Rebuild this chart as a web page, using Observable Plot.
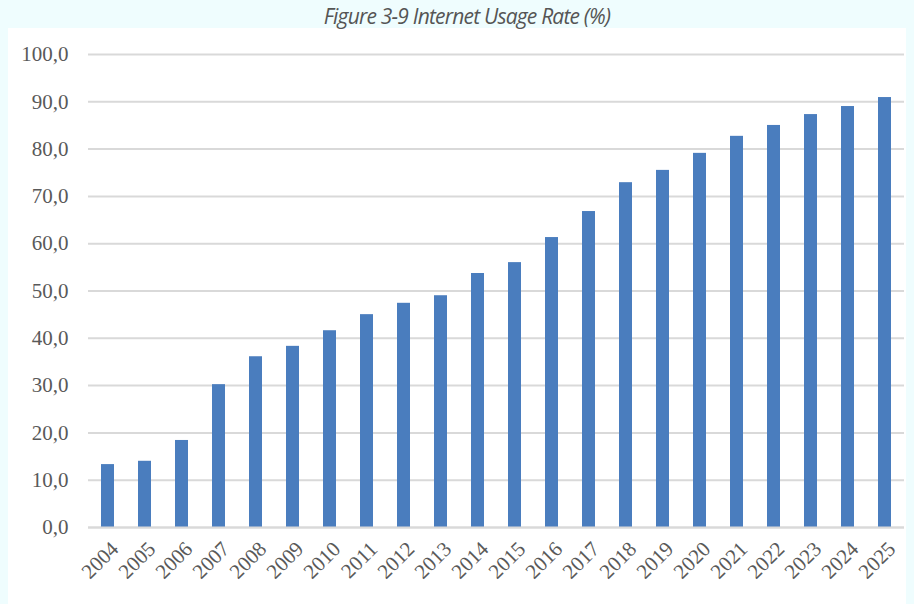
<!DOCTYPE html>
<html>
<head>
<meta charset="utf-8">
<script src="https://cdn.jsdelivr.net/npm/d3@7"></script>
<script src="https://cdn.jsdelivr.net/npm/@observablehq/plot@0.6"></script>
<style>
  html, body { margin: 0; padding: 0; background: #effdfe; width: 914px; height: 604px; overflow: hidden; }
  #title { height: 28px; line-height: 32px; text-align: center; font-family: "Open Sans", sans-serif; font-style: italic; font-size: 21px; color: #555; letter-spacing: -0.8px; padding-left: 20px; }
  #chart { margin-left: 8px; width: 898px; height: 576px; background: #fff; }
  #chart svg { display: block; }
</style>
</head>
<body>
<div id="title">Figure 3-9 Internet Usage Rate (%)</div>
<div id="chart"></div>
<script>
const years = ["2004","2005","2006","2007","2008","2009","2010","2011","2012","2013","2014","2015","2016","2017","2018","2019","2020","2021","2022","2023","2024","2025"];
const rates = [13.3, 14.0, 18.4, 30.2, 36.1, 38.3, 41.6, 45.0, 47.4, 49.0, 53.7, 56.0, 61.3, 66.8, 72.9, 75.5, 79.1, 82.7, 85.0, 87.3, 89.0, 90.9];
const yTicks = [0, 10, 20, 30, 40, 50, 60, 70, 80, 90, 100];

const data = years.map((y, i) => ({year: y, rate: rates[i]}));
const fmt = d => d3.format(".1f")(d).replace(".", ",");

const chart = Plot.plot({
  width: 898,
  height: 576,
  marginLeft: 80,
  marginRight: 2,
  marginTop: 26,
  marginBottom: 77,
  style: {background: "#fff", fontFamily: "'Liberation Serif', serif", fontSize: "21px", color: "#595959"},
  x: {domain: years, paddingInner: 0.66, paddingOuter: 0.34, label: null},
  y: {domain: [0, 100], label: null},
  marks: [
    Plot.gridY(yTicks, {stroke: "#d9d9d9", strokeOpacity: 1, strokeWidth: 2}),
    Plot.axisY(yTicks, {tickSize: 0, tickPadding: 20, tickFormat: fmt, fill: "#595959", fontSize: 21, label: null}),
    Plot.axisX({tickSize: 0, tickPadding: 18, tickRotate: -45, fill: "#595959", fontSize: 21, label: null, dx: 7}),
    Plot.barY(data, {x: "year", y: "rate", fill: "#4a7dbe"}),
    Plot.ruleY([0], {stroke: "#d9d9d9", strokeWidth: 2})
  ]
});
document.getElementById("chart").appendChild(chart);
</script>
</body>
</html>
